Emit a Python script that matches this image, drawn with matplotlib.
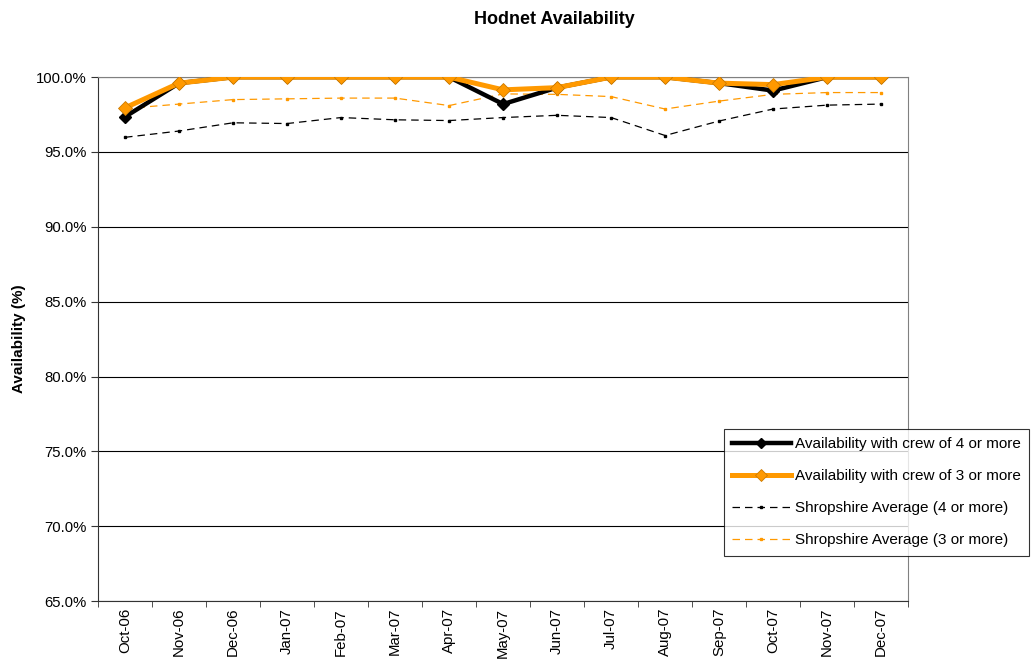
import matplotlib.pyplot as plt
from matplotlib.ticker import FuncFormatter, FixedLocator

plt.rcParams["font.family"] = ["Liberation Sans", "DejaVu Sans"]

months = ["Oct-06", "Nov-06", "Dec-06", "Jan-07", "Feb-07", "Mar-07", "Apr-07",
          "May-07", "Jun-07", "Jul-07", "Aug-07", "Sep-07", "Oct-07", "Nov-07", "Dec-07"]
crew4 = [97.35, 99.6, 100.0, 100.0, 100.0, 100.0, 100.0,
         98.2, 99.3, 100.0, 100.0, 99.6, 99.1, 100.0, 100.0]
crew3 = [97.95, 99.6, 100.0, 100.0, 100.0, 100.0, 100.0,
         99.15, 99.3, 100.0, 100.0, 99.6, 99.5, 100.0, 100.0]
shrop4 = [95.98, 96.4, 96.95, 96.9, 97.3, 97.15, 97.1,
          97.3, 97.45, 97.3, 96.1, 97.07, 97.87, 98.13, 98.2]
shrop3 = [97.9, 98.2, 98.5, 98.55, 98.6, 98.6, 98.1,
          98.88, 98.85, 98.7, 97.87, 98.4, 98.85, 98.97, 98.97]

orange = "#FF9900"
x = list(range(len(months)))

fig = plt.figure(figsize=(10.32, 6.65), dpi=100)
ax = fig.add_axes([0.095, 0.0962, 0.785, 0.7878])

ax.plot(x, shrop4, color="black", lw=0.9, ls=(0, (6, 4)), marker="s", ms=1.8,
        label="Shropshire Average (4 or more)", zorder=2)
ax.plot(x, shrop3, color=orange, lw=0.9, ls=(0, (6, 4)), marker="s", ms=1.8,
        label="Shropshire Average (3 or more)", zorder=2)
ax.plot(x, crew4, color="black", lw=3.2, marker="D", ms=6.5,
        mec="black", label="Availability with crew of 4 or more", zorder=3)
ax.plot(x, crew3, color=orange, lw=3.6, marker="D", ms=7.5,
        mec="#CC7A00", mew=0.6, label="Availability with crew of 3 or more", zorder=4)

ax.set_xlim(-0.5, len(months) - 0.5)
ax.set_ylim(65, 100)
ax.set_yticks([65, 70, 75, 80, 85, 90, 95, 100])
ax.yaxis.set_major_formatter(FuncFormatter(lambda v, p: f"{v:.1f}%"))
ax.yaxis.grid(True, color="black", lw=0.8)
ax.set_axisbelow(True)

ax.set_xticks(x)
ax.set_xticklabels(months, rotation=90, fontsize=10.8)
ax.tick_params(axis="x", which="major", length=0, pad=5)
ax.xaxis.set_minor_locator(FixedLocator([i - 0.5 for i in range(len(months) + 1)]))
ax.tick_params(axis="x", which="minor", length=4, direction="out", color="#333333")
ax.tick_params(axis="y", labelsize=10.7, length=5, direction="out", color="#333333", pad=3)

for side in ["top", "right"]:
    ax.spines[side].set_color("#808080")
ax.spines["left"].set_color("#333333")
ax.spines["bottom"].set_color("#333333")

ax.set_ylabel("Availability (%)", fontsize=11, fontweight="bold")
ax.yaxis.set_label_coords(-0.089, 0.5)
fig.text(0.537, 0.97, "Hodnet Availability", fontsize=13, fontweight="bold",
         ha="center", va="center")

handles, labels = ax.get_legend_handles_labels()
order = [2, 3, 0, 1]
leg = fig.legend([handles[i] for i in order], [labels[i] for i in order],
                 loc="upper left", bbox_to_anchor=(0.7016, 0.3549),
                 borderaxespad=0, fontsize=11, frameon=True, fancybox=False,
                 handlelength=3.8, handletextpad=0.3, labelspacing=1.18,
                 borderpad=0.55, markerscale=0.8)
leg.get_frame().set_edgecolor("black")
leg.get_frame().set_linewidth(0.8)

fig.savefig("out.png", dpi=100)
